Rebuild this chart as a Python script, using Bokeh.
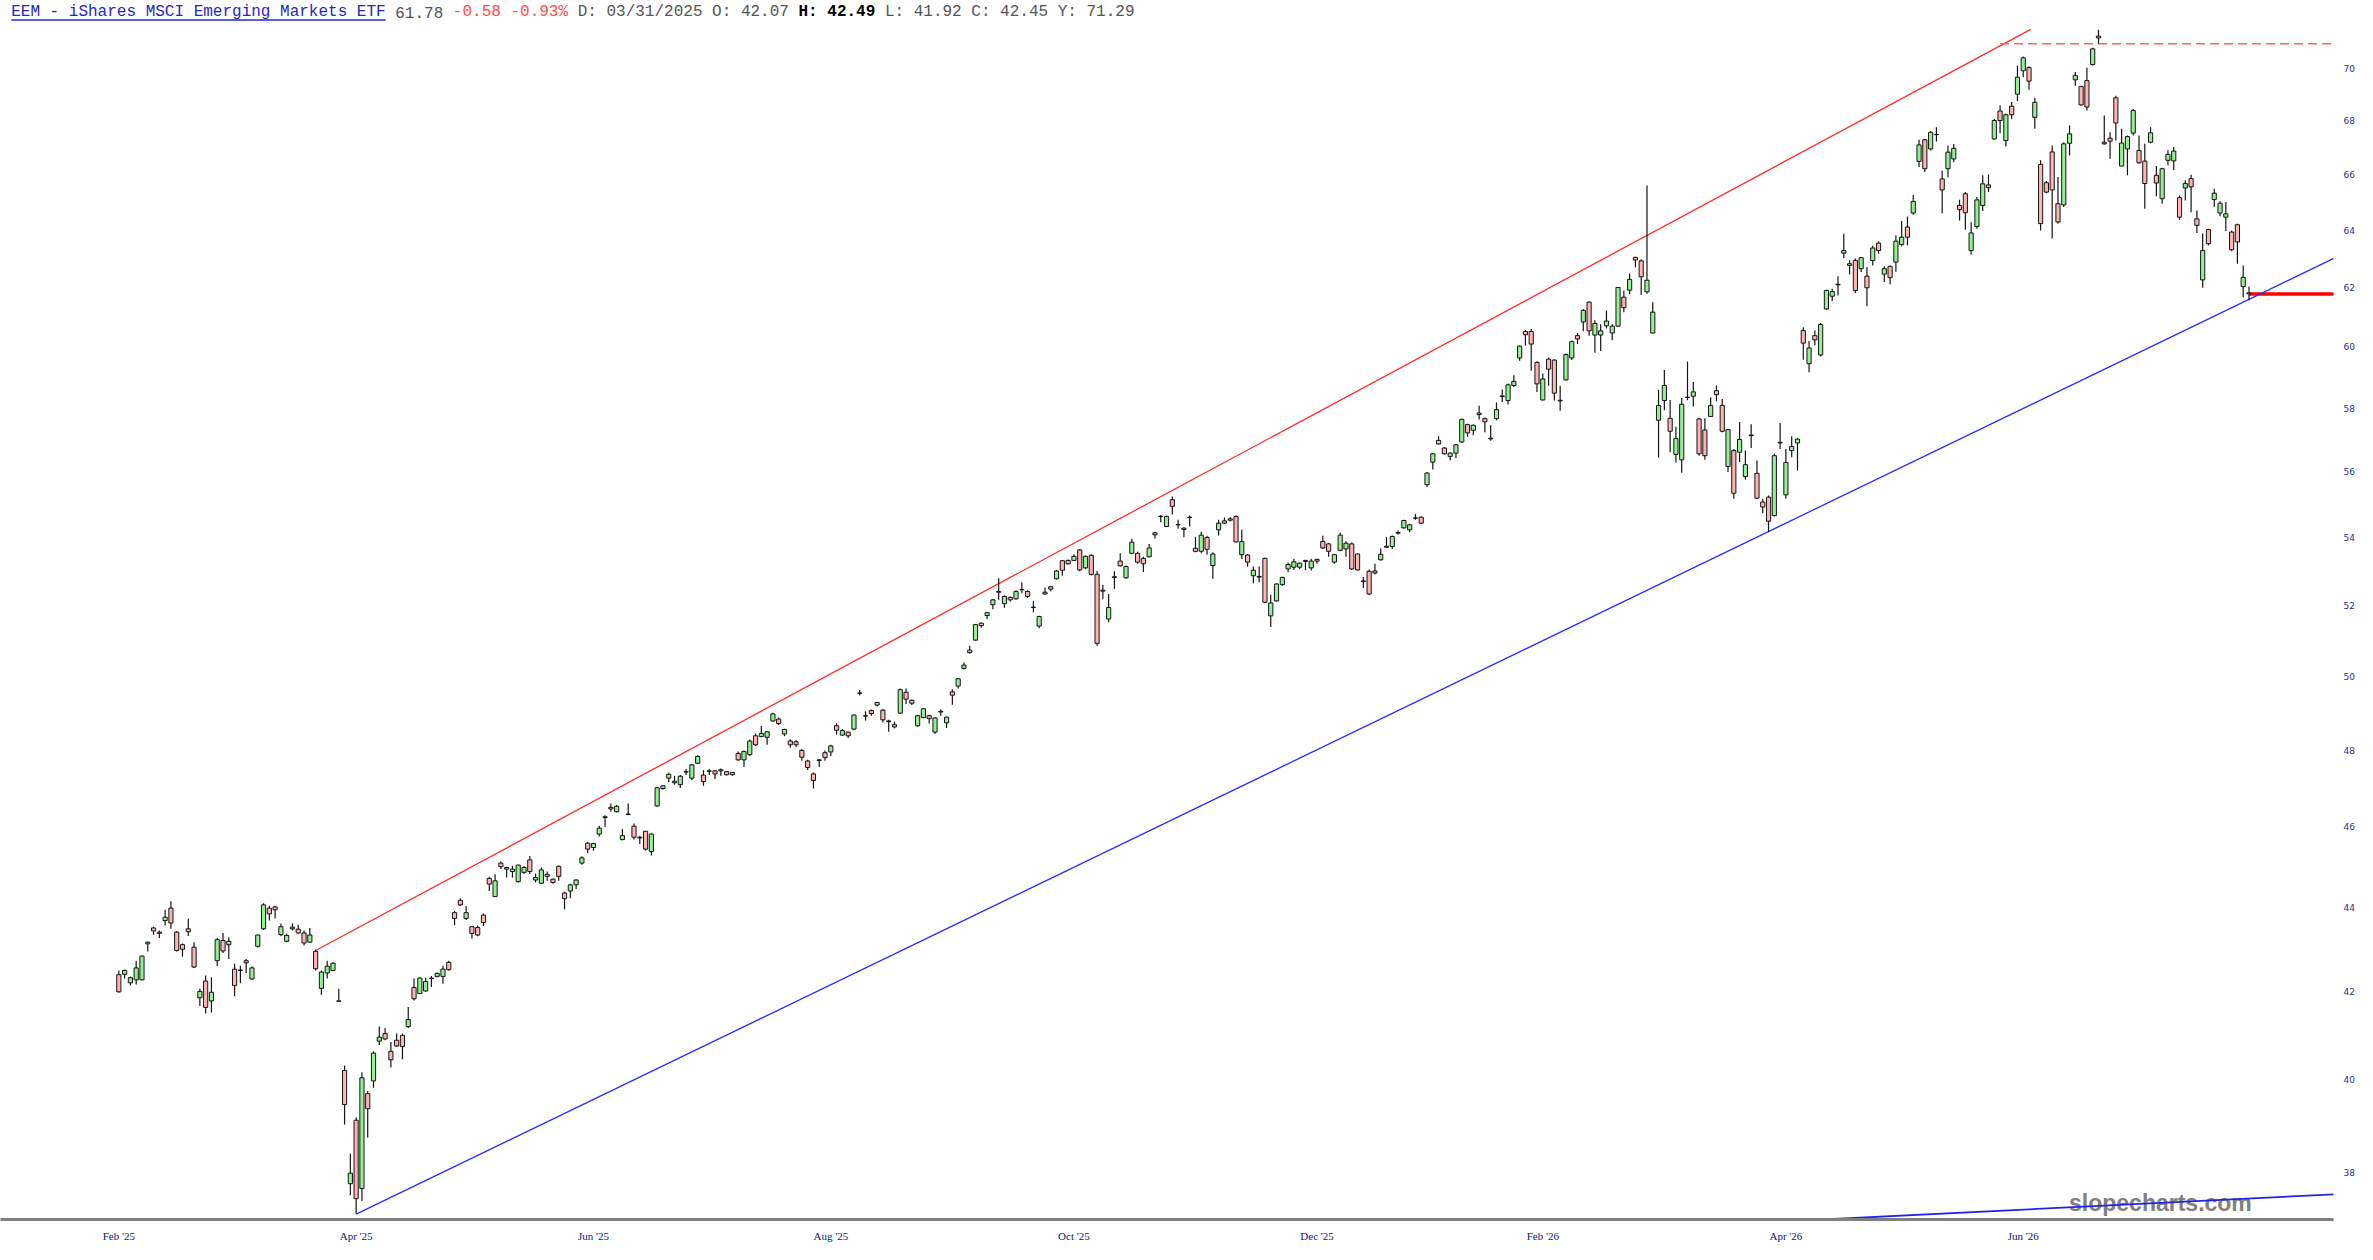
import numpy as np
from bokeh.plotting import figure
from bokeh.models import Range1d, FixedTicker, PrintfTickFormatter, Label, BoxAnnotation, ColumnDataSource
from bokeh.core.properties import value
from bokeh.embed import file_html
from bokeh.resources import INLINE

# ---------------- data (daily candles, one per trading day) ----------------
opens = [
    42.39, 42.40, 42.20, 42.27, 42.27, 43.12, 43.50, 43.40, 43.68, 43.98,
    43.40, 43.10, 43.48, 43.04, 41.85, 42.24, 41.78, 42.72, 43.20, 43.10,
    42.52, 42.50, 42.67, 42.29, 43.06, 43.48, 43.98, 44.01, 43.34, 43.18,
    43.48, 43.47, 43.38, 43.16, 42.94, 42.07, 42.43, 42.49, 41.78, 40.20,
    37.76, 39.11, 37.66, 39.69, 39.97, 40.86, 41.03, 40.63, 40.88, 40.99,
    41.19, 42.09, 41.95, 42.01, 42.30, 42.35, 42.35, 42.68, 43.87, 44.17,
    43.73, 43.53, 43.51, 43.81, 44.71, 44.26, 45.09, 44.94, 44.88, 44.63,
    44.86, 45.17, 44.67, 44.59, 44.76, 44.69, 45.01, 44.35, 44.40, 44.55,
    45.09, 45.59, 45.48, 45.82, 46.24, 46.50, 46.39, 45.68, 46.33, 46.02,
    45.74, 45.89, 45.38, 46.54, 46.99, 47.26, 47.14, 47.09, 47.42, 47.26,
    47.65, 47.34, 47.45, 47.45, 47.45, 47.43, 47.35, 47.91, 47.74, 47.88,
    48.38, 48.36, 48.34, 48.78, 48.83, 48.43, 48.24, 48.22, 47.99, 47.71,
    47.37, 47.72, 47.93, 47.95, 48.65, 48.40, 48.48, 48.56, 49.53, 48.92,
    49.06, 49.21, 49.07, 48.78, 48.62, 48.99, 49.56, 49.34, 48.65, 48.87,
    48.92, 48.48, 49.04, 48.73, 49.57, 49.73, 50.22, 50.73, 51.01, 51.49,
    51.71, 52.02, 52.40, 52.05, 52.23, 52.19, 52.45, 52.40, 51.95, 51.41,
    52.38, 52.47, 52.77, 53.30, 53.31, 53.31, 53.62, 53.09, 53.46, 52.90,
    52.44, 51.61, 52.83, 53.29, 52.80, 53.52, 53.52, 53.37, 53.42, 54.13,
    54.63, 54.32, 55.13, 54.38, 54.27, 54.60, 53.67, 53.58, 53.99, 53.16,
    54.22, 54.42, 54.55, 54.62, 53.48, 53.47, 52.86, 52.84, 53.37, 51.70,
    52.13, 52.60, 53.06, 53.11, 53.11, 53.31, 53.09, 53.34, 53.87, 53.80,
    53.26, 53.61, 53.65, 53.80, 53.50, 52.71, 52.99, 53.00, 53.33, 53.70,
    53.72, 54.12, 54.28, 54.22, 54.57, 54.60, 55.59, 56.29, 56.86, 56.73,
    56.47, 56.57, 56.92, 57.47, 57.29, 57.84, 57.66, 57.04, 57.66, 58.39,
    58.24, 58.73, 59.63, 60.51, 60.51, 59.48, 58.26, 59.59, 59.56, 58.25,
    58.91, 59.63, 60.37, 60.83, 61.50, 60.39, 60.39, 60.70, 60.46, 60.69,
    61.67, 61.91, 63.04, 62.92, 61.85, 60.46, 57.61, 58.24, 57.67, 56.53,
    56.36, 58.35, 58.38, 57.65, 57.30, 57.73, 58.56, 58.08, 56.15, 56.65,
    56.60, 55.84, 57.14, 55.94, 55.06, 55.21, 54.65, 56.91, 55.28, 56.65,
    56.89, 60.54, 59.44, 60.37, 59.73, 61.27, 61.70, 62.11, 63.19, 62.76,
    62.94, 62.65, 62.39, 62.93, 63.54, 62.46, 62.73, 62.88, 63.49, 64.11,
    64.61, 66.48, 67.28, 66.94, 67.48, 65.84, 66.21, 66.57, 64.88, 65.30,
    63.28, 64.13, 64.88, 65.62, 67.31, 68.36, 67.25, 68.54, 69.00, 69.90,
    70.02, 68.12, 66.37, 65.70, 66.83, 64.94, 64.90, 67.15, 69.55, 69.29,
    69.52, 70.14, 71.25, 67.19, 67.34, 68.86, 66.31, 66.94, 67.53, 66.88,
    66.49, 67.19, 65.97, 65.12, 66.52, 66.50, 65.16, 65.51, 65.85, 64.40,
    62.26, 64.02, 65.09, 64.61, 64.46, 63.93, 64.19, 62.03, 61.82,
]
highs = [
    42.49, 42.51, 42.35, 42.72, 42.84, 43.17, 43.53, 43.44, 43.94, 44.15,
    43.42, 43.13, 43.72, 43.16, 42.06, 42.37, 42.33, 43.26, 43.38, 43.28,
    42.65, 42.60, 42.76, 42.58, 43.34, 44.10, 44.04, 44.04, 43.61, 43.36,
    43.61, 43.58, 43.44, 43.50, 42.98, 42.49, 42.72, 42.68, 42.06, 40.31,
    38.39, 39.17, 40.16, 39.75, 40.63, 41.19, 41.16, 40.84, 41.03, 41.03,
    41.64, 42.30, 42.33, 42.32, 42.36, 42.44, 42.60, 42.72, 43.91, 44.22,
    44.03, 43.55, 43.56, 43.85, 44.75, 44.81, 45.13, 45.00, 45.02, 45.05,
    45.02, 45.27, 44.83, 44.98, 44.88, 44.71, 45.03, 44.38, 44.58, 44.69,
    45.26, 45.62, 45.60, 46.03, 46.30, 46.60, 46.56, 45.95, 46.60, 46.09,
    45.78, 45.90, 45.84, 47.02, 47.07, 47.41, 47.32, 47.34, 47.50, 47.63,
    47.86, 47.47, 47.50, 47.47, 47.51, 47.45, 47.42, 47.96, 47.99, 48.28,
    48.44, 48.64, 48.50, 49.00, 48.87, 48.57, 48.29, 48.27, 48.03, 47.74,
    47.41, 47.76, 47.99, 48.14, 48.72, 48.56, 48.49, 48.95, 49.62, 49.04,
    49.09, 49.30, 49.10, 48.81, 48.76, 49.66, 49.66, 49.36, 48.95, 49.12,
    48.95, 48.88, 49.09, 48.90, 49.64, 49.95, 50.38, 50.85, 51.47, 51.51,
    51.81, 52.18, 52.79, 52.29, 52.26, 52.44, 52.67, 52.44, 52.13, 51.70,
    52.52, 52.57, 53.03, 53.32, 53.34, 53.49, 53.65, 53.46, 53.49, 53.00,
    52.60, 52.33, 52.99, 53.52, 53.16, 53.95, 53.57, 53.42, 53.80, 54.16,
    54.67, 54.65, 55.23, 54.52, 54.30, 54.65, 54.01, 54.16, 54.04, 53.55,
    54.52, 54.59, 54.61, 54.66, 54.22, 53.50, 53.13, 53.13, 53.40, 52.31,
    52.64, 52.83, 53.25, 53.36, 53.25, 53.33, 53.36, 53.36, 54.04, 53.83,
    53.50, 54.14, 53.88, 53.84, 53.52, 52.82, 53.04, 53.21, 53.66, 54.01,
    54.05, 54.20, 54.52, 54.40, 54.70, 54.62, 55.98, 56.57, 57.10, 56.76,
    56.60, 56.86, 57.66, 57.50, 57.47, 58.07, 57.70, 57.45, 58.18, 58.60,
    58.79, 59.06, 60.04, 60.56, 60.59, 59.52, 59.12, 59.64, 59.59, 58.72,
    59.78, 60.21, 60.46, 61.27, 61.53, 60.89, 60.75, 61.22, 60.75, 62.02,
    61.89, 62.48, 63.07, 62.98, 65.60, 61.50, 58.59, 59.23, 58.26, 57.40,
    58.32, 59.51, 58.84, 57.69, 57.67, 58.35, 58.73, 58.29, 57.34, 56.70,
    57.55, 56.65, 57.48, 56.34, 55.16, 55.26, 56.55, 57.52, 56.70, 57.10,
    57.04, 60.65, 60.19, 60.54, 60.79, 61.92, 61.96, 62.39, 63.87, 62.94,
    63.00, 63.05, 62.71, 63.45, 63.61, 62.73, 62.76, 63.81, 64.32, 64.48,
    65.26, 67.28, 67.31, 67.60, 67.75, 66.14, 67.07, 67.12, 65.08, 65.36,
    64.28, 65.18, 65.97, 66.00, 68.06, 68.58, 68.26, 68.70, 70.10, 70.45,
    70.07, 68.86, 66.52, 65.76, 67.07, 65.91, 67.19, 67.81, 69.85, 69.32,
    70.02, 70.79, 71.50, 68.19, 67.56, 68.94, 67.69, 67.44, 68.44, 67.44,
    67.13, 67.75, 66.31, 66.25, 66.89, 67.01, 65.24, 65.79, 65.99, 64.70,
    63.88, 64.05, 65.48, 65.03, 65.00, 63.99, 64.23, 62.76, 62.03,
]
lows = [
    41.97, 42.30, 42.14, 42.16, 42.26, 42.94, 43.34, 43.26, 43.56, 43.48,
    42.94, 42.81, 43.31, 42.55, 41.66, 41.49, 41.51, 42.59, 42.90, 42.76,
    41.89, 42.19, 42.43, 42.27, 43.03, 43.45, 43.68, 43.73, 43.30, 43.16,
    43.44, 43.36, 43.08, 43.15, 42.49, 41.92, 42.30, 42.47, 41.77, 39.02,
    37.52, 37.14, 37.40, 38.74, 39.82, 40.77, 40.88, 40.27, 40.73, 40.45,
    41.16, 41.79, 41.94, 41.99, 42.10, 42.33, 42.18, 42.48, 43.57, 44.03,
    43.69, 43.25, 43.30, 43.55, 44.40, 44.25, 44.94, 44.73, 44.73, 44.61,
    44.82, 44.82, 44.61, 44.57, 44.65, 44.58, 44.65, 43.95, 44.22, 44.45,
    45.05, 45.34, 45.40, 45.76, 46.00, 46.39, 46.37, 45.66, 46.30, 45.68,
    45.57, 45.40, 45.28, 46.52, 46.96, 47.15, 47.09, 47.00, 47.34, 47.21,
    47.63, 47.06, 47.34, 47.24, 47.32, 47.33, 47.32, 47.72, 47.55, 47.84,
    48.11, 48.34, 48.14, 48.76, 48.67, 48.37, 48.06, 48.08, 47.72, 47.47,
    46.99, 47.55, 47.72, 47.84, 48.41, 48.38, 48.32, 48.53, 49.47, 48.79,
    48.92, 49.17, 48.74, 48.49, 48.58, 48.97, 49.24, 49.21, 48.62, 48.85,
    48.71, 48.43, 48.92, 48.59, 49.22, 49.66, 50.19, 50.63, 50.99, 51.36,
    51.61, 51.89, 52.16, 51.93, 52.11, 52.16, 52.35, 52.21, 51.80, 51.35,
    52.31, 52.41, 52.75, 52.86, 53.19, 53.29, 52.99, 53.06, 52.87, 50.85,
    52.18, 51.52, 52.48, 53.13, 52.77, 53.50, 53.21, 52.97, 53.40, 53.96,
    54.45, 54.30, 54.68, 54.25, 54.00, 54.32, 53.55, 53.52, 53.48, 52.77,
    54.05, 54.40, 54.47, 53.84, 53.35, 53.13, 52.64, 52.67, 52.06, 51.38,
    52.11, 52.57, 52.96, 53.03, 53.06, 53.03, 53.01, 53.21, 53.65, 53.42,
    53.21, 53.58, 53.42, 53.03, 53.01, 52.50, 52.30, 52.90, 53.30, 53.68,
    53.65, 54.08, 54.25, 54.15, 54.52, 54.40, 55.52, 56.06, 56.84, 56.52,
    56.34, 56.42, 56.89, 57.08, 57.13, 57.63, 57.23, 56.96, 57.61, 58.19,
    58.11, 58.68, 59.54, 60.04, 59.21, 58.52, 58.24, 58.72, 58.24, 57.91,
    58.89, 59.56, 60.09, 60.52, 60.37, 59.80, 59.86, 60.61, 60.22, 60.67,
    61.16, 61.77, 62.69, 61.74, 61.79, 60.44, 56.43, 57.93, 56.60, 56.27,
    55.96, 58.25, 58.05, 56.49, 56.36, 57.71, 58.22, 57.23, 55.98, 55.16,
    56.29, 55.74, 56.73, 55.16, 54.72, 54.15, 54.62, 56.70, 55.16, 56.44,
    56.03, 59.57, 59.16, 60.04, 59.68, 61.24, 61.54, 61.73, 63.02, 62.45,
    61.81, 62.53, 61.36, 62.76, 63.17, 62.19, 62.11, 62.54, 63.43, 63.47,
    64.55, 66.27, 66.09, 66.88, 67.22, 64.60, 65.90, 66.45, 64.34, 64.01,
    63.14, 64.05, 64.68, 65.36, 67.28, 67.52, 67.03, 68.06, 68.74, 69.65,
    69.17, 67.69, 63.99, 65.32, 63.70, 64.23, 64.82, 66.70, 69.32, 68.56,
    68.38, 70.10, 70.95, 67.10, 66.58, 67.25, 66.29, 65.97, 67.44, 66.39,
    64.76, 67.15, 65.21, 64.94, 66.34, 66.16, 64.37, 65.06, 64.64, 63.90,
    61.99, 63.46, 64.82, 64.49, 63.97, 63.26, 62.82, 61.67, 61.56,
]
closes = [
    41.99, 42.49, 42.32, 42.55, 42.83, 43.16, 43.43, 43.37, 43.76, 43.62,
    42.96, 42.99, 43.41, 42.57, 42.00, 41.63, 41.98, 43.22, 42.95, 43.18,
    42.14, 42.49, 42.72, 42.55, 43.33, 44.06, 43.84, 43.94, 43.53, 43.32,
    43.52, 43.38, 43.14, 43.33, 42.53, 42.45, 42.59, 42.66, 41.77, 39.45,
    37.98, 37.45, 40.04, 39.36, 40.59, 40.95, 40.91, 40.44, 40.75, 40.74,
    41.35, 41.83, 42.31, 42.23, 42.31, 42.42, 42.52, 42.51, 43.73, 44.06,
    43.87, 43.37, 43.33, 43.63, 44.57, 44.65, 45.00, 44.98, 44.94, 45.04,
    44.98, 44.88, 44.73, 44.92, 44.81, 44.61, 44.76, 44.21, 44.55, 44.67,
    45.22, 45.44, 45.58, 45.97, 46.26, 46.46, 46.53, 45.78, 46.32, 45.74,
    45.72, 45.44, 45.82, 47.01, 47.06, 47.36, 47.18, 47.31, 47.43, 47.61,
    47.83, 47.17, 47.44, 47.37, 47.48, 47.35, 47.41, 47.74, 47.96, 48.24,
    48.14, 48.44, 48.49, 48.97, 48.71, 48.55, 48.14, 48.14, 47.81, 47.54,
    47.20, 47.74, 47.80, 48.11, 48.53, 48.52, 48.38, 48.94, 49.54, 48.91,
    48.98, 49.28, 48.81, 48.76, 48.68, 49.63, 49.37, 49.26, 48.92, 49.11,
    48.84, 48.86, 49.02, 48.88, 49.48, 49.93, 50.31, 50.66, 51.45, 51.42,
    51.79, 52.16, 52.38, 52.26, 52.16, 52.40, 52.46, 52.26, 51.94, 51.68,
    52.33, 52.54, 53.00, 53.02, 53.21, 53.43, 53.03, 53.43, 52.90, 50.92,
    52.41, 51.94, 52.81, 53.15, 53.13, 53.85, 53.26, 53.21, 53.68, 54.07,
    54.62, 54.62, 54.93, 54.37, 54.23, 54.59, 53.58, 54.06, 53.64, 53.50,
    54.42, 54.49, 54.51, 53.86, 53.87, 53.26, 53.02, 52.82, 52.09, 52.07,
    52.62, 52.81, 53.19, 53.27, 53.23, 53.28, 53.29, 53.29, 53.68, 53.58,
    53.48, 54.06, 53.82, 53.06, 53.03, 52.69, 52.33, 52.94, 53.49, 53.73,
    54.02, 54.14, 54.50, 54.37, 54.58, 54.42, 55.95, 56.55, 56.97, 56.55,
    56.57, 56.83, 57.64, 57.21, 57.45, 57.79, 57.56, 57.02, 57.95, 58.37,
    58.75, 58.86, 60.02, 60.40, 60.09, 58.78, 58.94, 59.26, 58.48, 58.23,
    59.74, 60.17, 60.26, 61.22, 60.53, 60.78, 60.53, 60.86, 60.69, 62.00,
    61.31, 62.28, 62.95, 62.37, 62.25, 61.16, 58.08, 58.73, 57.26, 57.03,
    58.12, 58.34, 58.52, 56.55, 56.49, 58.08, 58.43, 57.26, 57.31, 55.33,
    57.00, 56.21, 57.12, 55.18, 54.91, 54.48, 56.49, 56.89, 56.28, 56.78,
    57.01, 60.12, 59.96, 60.23, 60.74, 61.90, 61.86, 62.09, 63.28, 62.82,
    61.90, 63.03, 61.99, 63.37, 63.28, 62.65, 62.34, 63.61, 63.75, 63.75,
    65.02, 67.09, 66.21, 67.56, 67.47, 65.44, 66.82, 66.96, 64.73, 64.62,
    63.90, 65.08, 65.66, 65.52, 68.00, 68.00, 68.22, 68.22, 69.65, 70.40,
    69.50, 68.69, 64.23, 65.36, 65.44, 64.29, 67.13, 67.50, 69.72, 68.59,
    68.51, 70.75, 71.18, 67.13, 67.23, 67.91, 67.16, 67.40, 68.38, 66.43,
    65.67, 67.54, 65.69, 66.21, 66.74, 66.86, 64.46, 65.67, 65.55, 64.17,
    63.28, 63.52, 65.32, 64.96, 64.58, 63.31, 63.58, 62.35, 61.78,
]

# x-axis month labels, at bar index
month_tick_bars = [0, 41, 82, 123, 165, 207, 246, 288, 329]
month_labels = ["Feb '25", "Apr '25", "Jun '25", "Aug '25", "Oct '25",
                "Dec '25", "Feb '26", "Apr '26", "Jun '26"]
price_ticks = [38, 40, 42, 44, 46, 48, 50, 52, 54, 56, 58, 60, 62, 64, 66, 68, 70]

# drawn trend lines (bar index, price)
upper_line_x = [34, 330.3]
upper_line_y = [42.96, 71.52]
lower_line_x = [41, 389.5]
lower_line_y = [37.13, 63.68]
base_line_x = [294.5, 389.5]
base_line_y = [37.02, 37.58]
prior_high = 70.95
prior_high_from = 325

header_parts = [
    ("EEM - iShares MSCI Emerging Markets ETF", "#2626c4", "normal"),
    ("61.78", "#555555", "normal"),
    ("-0.58 -0.93%", "#ff4a4a", "normal"),
    ("D: 03/31/2025 O: 42.07", "#555555", "normal"),
    ("H: 42.49", "#000000", "bold"),
    ("L: 41.92 C: 42.45 Y: 71.29", "#555555", "normal"),
]

# ---------------- figure ----------------
X0, X1 = -20.44, 382.6
Y0, Y1 = 37.02, 72.67

p = figure(width=2357, height=1244, y_axis_type="log",
           x_range=Range1d(X0, X1), y_range=Range1d(Y0, Y1),
           y_axis_location="right", output_backend="svg", toolbar_location=None,
           min_border_left=0, min_border_right=24, min_border_top=0, min_border_bottom=25)
p.outline_line_color = None
p.xgrid.visible = False
p.ygrid.visible = False
p.background_fill_color = "white"
p.border_fill_color = "white"

# x axis
p.xaxis.ticker = FixedTicker(ticks=month_tick_bars)
p.xaxis.major_label_overrides = {t: s for t, s in zip(month_tick_bars, month_labels)}
p.xaxis.axis_line_color = "#808080"
p.xaxis.axis_line_width = 3
p.xaxis.major_tick_line_color = None
p.xaxis.minor_tick_line_color = None
p.xaxis.major_tick_out = 0
p.xaxis.major_tick_in = 0
p.xaxis.major_label_standoff = 10
p.xaxis.major_label_text_font = "Liberation Serif"
p.xaxis.major_label_text_font_size = "11px"
p.xaxis.major_label_text_color = "#12127a"

# y axis
p.yaxis.ticker = FixedTicker(ticks=price_ticks)
p.yaxis.formatter = PrintfTickFormatter(format="%d")
p.yaxis.axis_line_color = None
p.yaxis.major_tick_line_color = None
p.yaxis.minor_tick_line_color = None
p.yaxis.major_tick_out = 0
p.yaxis.major_tick_in = 0
p.yaxis.major_label_standoff = 10
p.yaxis.major_label_text_font = "DejaVu Sans"
p.yaxis.major_label_text_font_size = "9px"
p.yaxis.major_label_text_color = "#2e2e90"

# watermark (under the lines)
p.text(x=[352.7], y=[37.35], text=["slopecharts.com"], text_font=value("Liberation Sans"),
       text_font_style="bold", text_font_size="23px", text_color="#808080",
       text_align="center", text_baseline="middle")

o = np.array(opens); h = np.array(highs); l = np.array(lows); c = np.array(closes)
n = min(len(o), len(h), len(l), len(c))
o, h, l, c = o[:n], h[:n], l[:n], c[:n]
xi = np.arange(n)
rising = c >= o
src = ColumnDataSource(dict(
    x=xi, h=h, l=l,
    top=np.maximum(o, c), bottom=np.minimum(o, c),
    fill=np.where(rising, "#93f093", "#ffb4b4"),
))

# last price line
p.line([n - 1, X1 + 10], [c[-1], c[-1]], line_color="#ff0000", line_width=3.5)

# trend lines
p.line(upper_line_x, upper_line_y, line_color="#ff2a2a", line_width=1.3)
p.line(lower_line_x, lower_line_y, line_color="#2a2aff", line_width=1.3)
p.line(base_line_x, base_line_y, line_color="#2222ee", line_width=1.8)
p.line([prior_high_from, X1 + 10], [prior_high, prior_high], line_color="#ff6060",
       line_width=1.4, line_dash="9 5")

# candles
p.segment(x0="x", y0="h", x1="x", y1="l", line_color="#151515", line_width=1.2, source=src)
p.vbar(x="x", top="top", bottom="bottom", width=0.72, fill_color="fill",
       line_color="#151515", line_width=1, source=src)

# header
bar_px = 5.788
char_w = 9.6 / bar_px
hx = -18.59
hy = 72.19
pos = 0
for txt, col, style in header_parts:
    p.add_layout(Label(x=hx + pos * char_w, y=hy, x_units="data", y_units="data", text=txt,
                       text_font="Liberation Mono", text_font_size="16px", text_color=col,
                       text_font_style=style, text_baseline="middle", text_align="left"))
    pos += len(txt) + 1
title_len = len(header_parts[0][0])
p.add_layout(BoxAnnotation(left=hx, right=hx + title_len * char_w, bottom=71.86, top=71.92,
                           fill_color="#2626c4", fill_alpha=1.0, line_alpha=0))

open("out.html", "w").write(file_html(p, INLINE))
